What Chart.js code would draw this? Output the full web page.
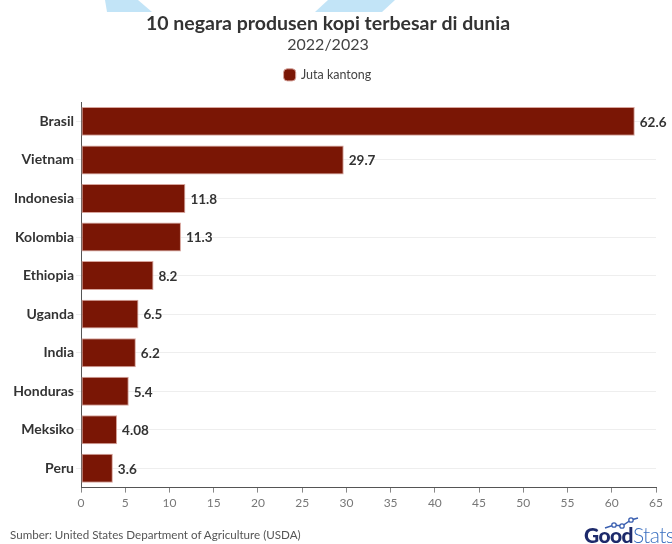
<!DOCTYPE html>
<html>
<head>
<meta charset="utf-8">
<script src="https://cdn.jsdelivr.net/npm/chart.js@4.4.0/dist/chart.umd.min.js"></script>
<style>
  html,body{margin:0;padding:0;background:#fff;}
  #wrap{position:relative;width:672px;height:544px;overflow:hidden;font-family:"Lato",sans-serif;}
  #deco{position:absolute;left:0;top:0;}
  #c{position:absolute;left:0;top:0;}
  #src{position:absolute;left:10px;top:528px;font-size:11.6px;color:#555;font-family:Lato,sans-serif;}
  #logo{position:absolute;left:584px;top:523px;font-family:Lato,sans-serif;font-size:21px;letter-spacing:-0.6px;line-height:24px;}
  #logo .g{color:#1d2a6b;font-weight:900;}
  #logo .s{color:#3a6fc0;font-weight:300;}
</style>
</head>
<body>
<div id="wrap">
  <svg id="deco" width="672" height="20">
    <polygon points="105,0 138,0 152,12 107,12" fill="#c2e4f7"/>
    <polygon points="328,0 395,0 382,12 315,12" fill="#c2e4f7"/>
  </svg>
  <canvas id="c" width="672" height="544"></canvas>
  <div id="src">Sumber: United States Department of Agriculture (USDA)</div>
  <svg style="position:absolute;left:602px;top:516px" width="40" height="14">
    <polyline points="3,12 12,9 20,10 29,4 36,2" fill="none" stroke="#3a5fb0" stroke-width="1.5"/>
    <circle cx="12" cy="9" r="2.2" fill="#fff" stroke="#3a5fb0" stroke-width="1.3"/>
    <circle cx="20" cy="10" r="2.2" fill="#fff" stroke="#3a5fb0" stroke-width="1.3"/>
    <circle cx="29" cy="4" r="2.2" fill="#fff" stroke="#3a5fb0" stroke-width="1.3"/>
  </svg>
  <div id="logo"><span class="g">Good</span><span class="s">Stats</span></div>
</div>
<script>
const categories = ["Brasil","Vietnam","Indonesia","Kolombia","Ethiopia","Uganda","India","Honduras","Meksiko","Peru"];
const values = [62.6, 29.7, 11.8, 11.3, 8.2, 6.5, 6.2, 5.4, 4.08, 3.6];
const valueLabels = ["62.6","29.7","11.8","11.3","8.2","6.5","6.2","5.4","4.08","3.6"];
const seriesName = "Juta kantong";
const titleText = "10 negara produsen kopi terbesar di dunia";
const subtitleText = "2022/2023";

const FONT = "Lato";

const valueLabelPlugin = {
  id: 'valueLabels',
  afterDatasetsDraw(chart) {
    const ctx = chart.ctx;
    const meta = chart.getDatasetMeta(0);
    ctx.save();
    ctx.font = "bold 13.5px " + FONT;
    ctx.fillStyle = "#333";
    ctx.textBaseline = "middle";
    ctx.textAlign = "left";
    meta.data.forEach((bar, i) => {
      ctx.fillText(valueLabels[i], bar.x + 5, bar.y + 1);
    });
    ctx.restore();
  }
};

new Chart(document.getElementById('c'), {
  type: 'bar',
  data: {
    labels: categories,
    datasets: [{
      label: seriesName,
      data: values,
      backgroundColor: '#7a1605',
      borderColor: '#d7a49c',
      borderWidth: 1,
      borderSkipped: false,
      barPercentage: 0.75,
      categoryPercentage: 1.0
    }]
  },
  options: {
    indexAxis: 'y',
    responsive: false,
    animation: false,
    layout: { padding: { left: 0, right: 16, top: 0, bottom: 31 } },
    plugins: {
      title: {
        display: true, text: titleText, color: '#333',
        font: { family: FONT, size: 19.5, weight: 'bold' },
        padding: { top: 12, bottom: 0 }
      },
      subtitle: {
        display: true, text: subtitleText, color: '#444',
        font: { family: FONT, size: 16, weight: 'normal' },
        padding: { top: 0, bottom: -5 }
      },
      legend: {
        display: true,
        labels: {
          usePointStyle: true, pointStyle: 'rectRounded',
          boxWidth: 10, boxHeight: 10,
          color: '#444',
          font: { family: FONT, size: 12.5 },
          padding: 19
        }
      },
      tooltip: { enabled: false }
    },
    scales: {
      x: {
        min: 0, max: 65,
        ticks: { stepSize: 5, color: '#777', font: { family: FONT, size: 12 }, padding: 3 },
        grid: { drawOnChartArea: false, drawTicks: true, tickLength: 5, color: '#888' },
        border: { display: true, color: '#555' }
      },
      xTopSpace: {
        type: 'linear', position: 'top', axis: 'x', display: true,
        min: 0, max: 65,
        afterFit(scale) { scale.height = 11; },
        ticks: { display: false },
        grid: { display: false, drawTicks: false },
        border: { display: false }
      },
      y: {
        afterFit(scale) { scale.width = 81; },
        ticks: { color: '#333', font: { family: FONT, size: 14, weight: 'bold' }, padding: 2 },
        grid: { offset: false, drawOnChartArea: true, drawTicks: true, tickLength: 5, color: '#eeeeee' },
        border: { display: true, color: '#555' }
      }
    }
  },
  plugins: [valueLabelPlugin]
});
</script>
</body>
</html>
